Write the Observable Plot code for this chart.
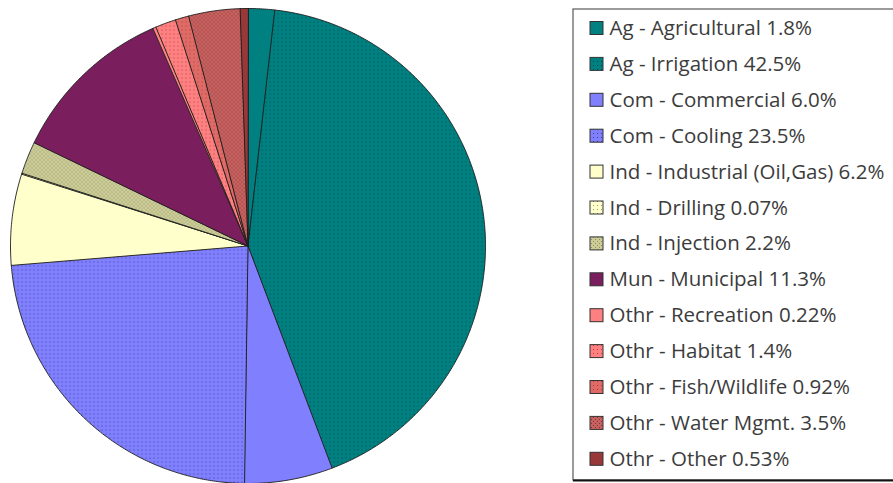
<!DOCTYPE html>
<html>
<head>
<meta charset="utf-8">
<script src="https://cdn.jsdelivr.net/npm/d3@7"></script>
<script src="https://cdn.jsdelivr.net/npm/@observablehq/plot@0.6"></script>
<style>
  html, body { margin: 0; padding: 0; background: #fff; }
  #chart svg { display: block; }
</style>
</head>
<body>
<div id="chart"></div>
<script>
// ---- Data ----
const categories = [
  "Ag - Agricultural", "Ag - Irrigation", "Com - Commercial", "Com - Cooling",
  "Ind - Industrial (Oil,Gas)", "Ind - Drilling", "Ind - Injection", "Mun - Municipal",
  "Othr - Recreation", "Othr - Habitat", "Othr - Fish/Wildlife", "Othr - Water Mgmt.", "Othr - Other"
];
const shares = [1.8, 42.5, 6.0, 23.5, 6.2, 0.07, 2.2, 11.3, 0.22, 1.4, 0.92, 3.5, 0.53];
const shareLabels = ["1.8%", "42.5%", "6.0%", "23.5%", "6.2%", "0.07%", "2.2%", "11.3%", "0.22%", "1.4%", "0.92%", "3.5%", "0.53%"];
const baseColors = ["#008080", "#008080", "#8080ff", "#8080ff", "#ffffcc", "#ffffcc", "#cccc99", "#7b1e5e",
  "#ff8080", "#ff8080", "#e06a66", "#c86260", "#993838"];
const dotColors = [null, "#034848", null, "#3e3e9a", null, "#9a9a66", "#8f8f5c", null,
  null, "#b84040", "#a04040", "#7e3030", null];

// ---- Layout ----
const W = 893, H = 483;
const cx = 247.5, cy = 245.5, R = 237.5;
const legendX = 573, legendTop = 9, legendBottom = 480;
const rowY0 = 28, rowStep = 35.9;

const fills = categories.map((c, i) => dotColors[i] ? `url(#pat${i})` : baseColors[i]);

// pie slices as polygons
const arcs = d3.pie().sort(null).value(d => d)(shares);
const pts = [];
arcs.forEach((a, i) => {
  const name = categories[i];
  pts.push({name, x: cx, y: cy});
  const n = Math.max(2, Math.ceil((a.endAngle - a.startAngle) / (Math.PI / 360)));
  for (let k = 0; k <= n; k++) {
    const t = a.startAngle + (a.endAngle - a.startAngle) * k / n;
    pts.push({name, x: cx + R * Math.sin(t), y: cy - R * Math.cos(t)});
  }
});

const legend = categories.map((c, i) => ({name: c, label: `${c} ${shareLabels[i]}`, y: rowY0 + i * rowStep}));

const chart = Plot.plot({
  width: W, height: H,
  margin: 0,
  x: {type: "identity", axis: null},
  y: {type: "identity", axis: null},
  color: {domain: categories, range: fills},
  marks: [
    Plot.rect([{x1: legendX, x2: W + 5, y1: legendTop, y2: legendBottom}],
      {x1: "x1", x2: "x2", y1: "y1", y2: "y2", fill: "white", stroke: "#666", strokeWidth: 1.3}),
    Plot.ruleY([legendBottom], {x1: legendX, x2: W, stroke: "#111", strokeWidth: 2}),
    Plot.line(pts, {x: "x", y: "y", z: "name", fill: "name", stroke: "#1c1c1c", strokeWidth: 0.9,
      curve: "linear-closed", strokeLinejoin: "round"}),
    Plot.rect(legend, {x1: legendX + 17, x2: legendX + 30, y1: d => d.y - 6.5, y2: d => d.y + 6.5,
      fill: "name", stroke: "#333", strokeWidth: 1}),
    Plot.text(legend, {x: legendX + 36, y: "y", text: "label", textAnchor: "start", lineAnchor: "middle",
      fontSize: 20.5, fill: "#3c3c3c", fontFamily: "'Open Sans', Lato, sans-serif"})
  ]
});

// patterns (dotted textures)
const ns = "http://www.w3.org/2000/svg";
const defs = document.createElementNS(ns, "defs");
categories.forEach((c, i) => {
  if (!dotColors[i]) return;
  const p = document.createElementNS(ns, "pattern");
  p.setAttribute("id", `pat${i}`);
  p.setAttribute("patternUnits", "userSpaceOnUse");
  p.setAttribute("width", 4); p.setAttribute("height", 4);
  const bg = document.createElementNS(ns, "rect");
  bg.setAttribute("width", 4); bg.setAttribute("height", 4); bg.setAttribute("fill", baseColors[i]);
  p.appendChild(bg);
  const d = document.createElementNS(ns, "rect");
  d.setAttribute("x", 1); d.setAttribute("y", 1);
  d.setAttribute("width", 1); d.setAttribute("height", 1); d.setAttribute("fill", dotColors[i]);
  p.appendChild(d);
  if (i === 6 || i === 11) {
    const d2 = document.createElementNS(ns, "rect");
    d2.setAttribute("x", 3); d2.setAttribute("y", 3);
    d2.setAttribute("width", 1); d2.setAttribute("height", 1); d2.setAttribute("fill", dotColors[i]);
    p.appendChild(d2);
  }
  defs.appendChild(p);
});
chart.insertBefore(defs, chart.firstChild);
document.getElementById("chart").appendChild(chart);
</script>
</body>
</html>
